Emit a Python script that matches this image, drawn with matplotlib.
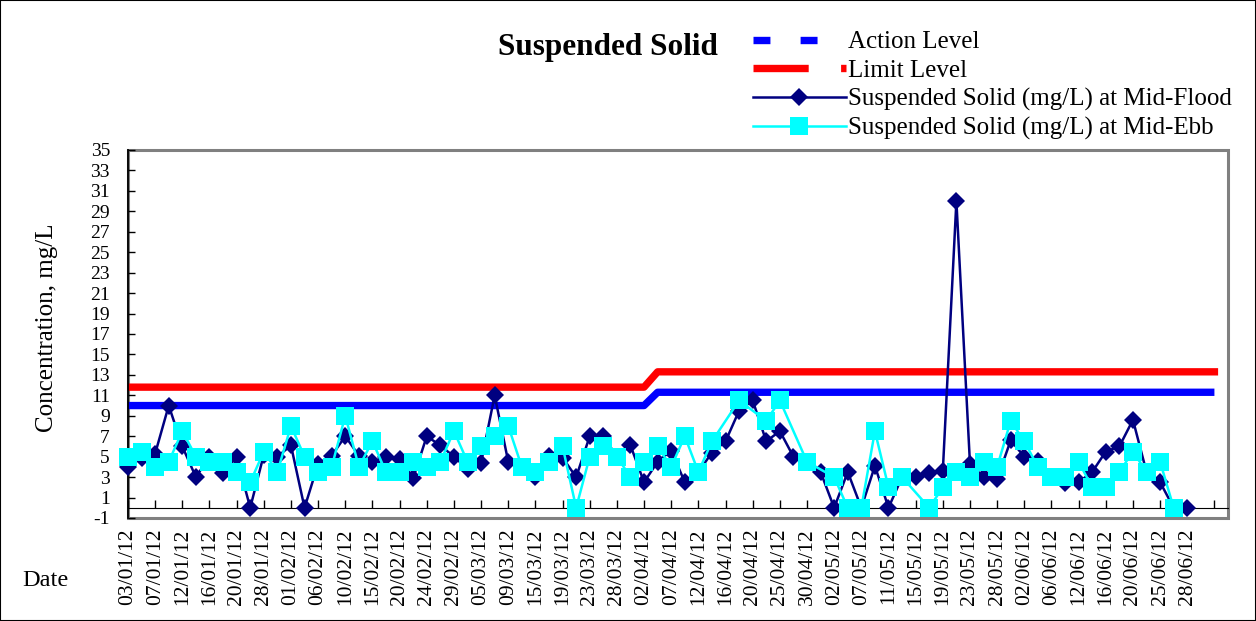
import numpy as np
import matplotlib
matplotlib.use('Agg')
import matplotlib.pyplot as plt
from matplotlib.lines import Line2D
from matplotlib.patches import Rectangle

plt.rcParams['font.family'] = ['Liberation Serif', 'DejaVu Serif']
plt.rcParams['axes.unicode_minus'] = False

# labels shown on every second category
date_labels = ['03/01/12', '07/01/12', '12/01/12', '16/01/12', '20/01/12', '28/01/12',
               '01/02/12', '06/02/12', '10/02/12', '15/02/12', '20/02/12', '24/02/12',
               '29/02/12', '05/03/12', '09/03/12', '15/03/12', '19/03/12', '23/03/12',
               '28/03/12', '02/04/12', '07/04/12', '12/04/12', '16/04/12', '20/04/12',
               '25/04/12', '30/04/12', '02/05/12', '07/05/12', '11/05/12', '15/05/12',
               '19/05/12', '23/05/12', '28/05/12', '02/06/12', '06/06/12', '12/06/12',
               '16/06/12', '20/06/12', '25/06/12', '28/06/12']

# suspended solid, mg/L
flood = [4.0, 4.9, 5.3, 10.0, 6.0, 3.0, 5.0, 3.4, 5.0, 0.0,
         5.2, 5.0, 6.1, 0.0, 4.3, 5.1, 7.0, 5.1, 4.5, 5.0,
         4.8, 2.9, 7.0, 6.1, 5.0, 3.8, 4.4, 11.0, 4.5, 4.0,
         3.0, 5.1, 4.9, 3.0, 7.0, 7.0, 5.0, 6.1, 2.5, 4.5,
         5.6, 2.5, 3.5, 5.4, 6.5, 9.5, 10.5, 6.5, 7.5, 5.0,
         4.5, 3.5, 0.0, 3.5, 0.0, 4.1, 0.0, 3.0, 3.0, 3.4,
         3.6, 30.0, 4.3, 3.0, 2.8, 6.6, 5.0, 4.6, 3.0, 2.4,
         2.5, 3.5, 5.5, 6.0, 8.6, 3.5, 2.5, 0.0, 0.0]
nan = float('nan')
ebb = [5.0, 5.5, 4.0, 4.5, 7.5, 5.0, 4.5, 4.5, 3.5, 2.5,
       5.5, 3.5, 8.0, 5.0, 3.5, 4.0, 9.0, 4.0, 6.5, 3.5,
       3.5, 4.5, 4.0, 4.5, 7.5, 4.5, 6.0, 7.0, 8.0, 4.0,
       3.5, 4.5, 6.0, 0.0, 5.0, 6.0, 5.0, 3.0, 4.5, 6.0,
       4.0, 7.0, 3.5, 6.5, nan, 10.5, nan, 8.5, 10.5, nan,
       4.5, nan, 3.0, 0.0, 0.0, 7.5, 2.0, 3.0, nan, 0.0,
       2.0, 3.5, 3.0, 4.5, 4.0, 8.5, 6.5, 4.0, 3.0, 3.0,
       4.5, 2.0, 2.0, 3.5, 5.5, 3.5, 4.5, 0.0, nan]

# action / limit levels: Jan-Mar and from April
action_q1, action_q2 = 10.0, 11.3
limit_q1, limit_q2 = 11.8, 13.3
n_q1 = 39        # categories on the first level
n_levels = 81    # categories that carry the levels
n_cats = 82

action = np.array([action_q1] * n_q1 + [action_q2] * (n_levels - n_q1))
limit = np.array([limit_q1] * n_q1 + [limit_q2] * (n_levels - n_q1))

fig = plt.figure(figsize=(12.56, 6.21), dpi=100)
ax = fig.add_axes([128 / 1256, 1 - 518 / 621, 1100 / 1256, 368 / 621])

# category axis crosses at 0, box goes down to -1
ax.spines['bottom'].set_position(('data', 0))
ax.spines['bottom'].set_color('black')
ax.spines['left'].set_color('black')
ax.spines['left'].set_linewidth(1.3)
ax.spines['top'].set_visible(False)
ax.spines['right'].set_visible(False)
ax.add_patch(Rectangle((0, 0), 1, 1, transform=ax.transAxes, fill=False,
                       ec='#808080', lw=2.2, clip_on=False, zorder=0))

lev_x = np.arange(n_levels)
ax.plot(lev_x, action, color='#0000FF', lw=5.3, solid_capstyle='butt', zorder=2)
ax.plot(lev_x, limit, color='#FF0000', lw=5.3, solid_capstyle='projecting', zorder=2)

x = np.arange(len(flood))
ax.plot(x, flood, color='#000080', lw=1.8, marker='D', ms=9.5, mew=0, zorder=3, clip_on=False)
ebb_arr = np.array(ebb)
ok = ~np.isnan(ebb_arr)
ax.plot(x[ok], ebb_arr[ok], color='#00FFFF', lw=1.8, marker='s', ms=12.5, mew=0, zorder=4, clip_on=False)

ax.set_xlim(0, n_cats - 1)
ax.set_ylim(-1, 35)
ax.set_yticks(np.arange(-1, 36, 2))
ax.set_xticks(np.arange(0, n_levels, 2))
ax.set_xticklabels(date_labels + [''], rotation=90, fontsize=15.5)

ax.tick_params(axis='x', direction='in', length=6, width=1, pad=15)
ax.tick_params(axis='y', direction='in', length=5, width=1, pad=13, labelsize=14)

fig.text(47 / 1256, 1 - 328 / 621, 'Concentration, mg/L', rotation=90,
         ha='center', va='center', fontsize=18)
fig.text(45 / 1256, 1 - 580 / 621, 'Date', ha='center', va='center', fontsize=17.5)
fig.text(608 / 1256, 1 - 47 / 621, 'Suspended Solid', ha='center', va='center',
         fontsize=22.5, fontweight='bold')

handles = [
    Line2D([], [], color='#0000FF', lw=5.3, dashes=(2.3, 4.1), dash_capstyle='butt'),
    Line2D([], [], color='#FF0000', lw=5.3, dashes=(7.5, 4.4), dash_capstyle='butt'),
    Line2D([], [], color='#000080', lw=1.8, marker='D', ms=9.5, mew=0),
    Line2D([], [], color='#00FFFF', lw=1.8, marker='s', ms=12.5, mew=0),
]
labels = ['Action Level', 'Limit Level', 'Suspended Solid (mg/L) at Mid-Flood',
          'Suspended Solid (mg/L) at Mid-Ebb']
fig.legend(handles, labels, loc='upper left', bbox_to_anchor=(753 / 1256, 1 - 31 / 621),
           frameon=False, fontsize=18, handlelength=3.7, handletextpad=0.1,
           labelspacing=0.24, borderpad=0, borderaxespad=0)

fig.add_artist(Rectangle((0, 0), 1, 1, transform=fig.transFigure, fill=False,
                         ec='black', lw=1.5))

fig.savefig('out.png', dpi=100)
